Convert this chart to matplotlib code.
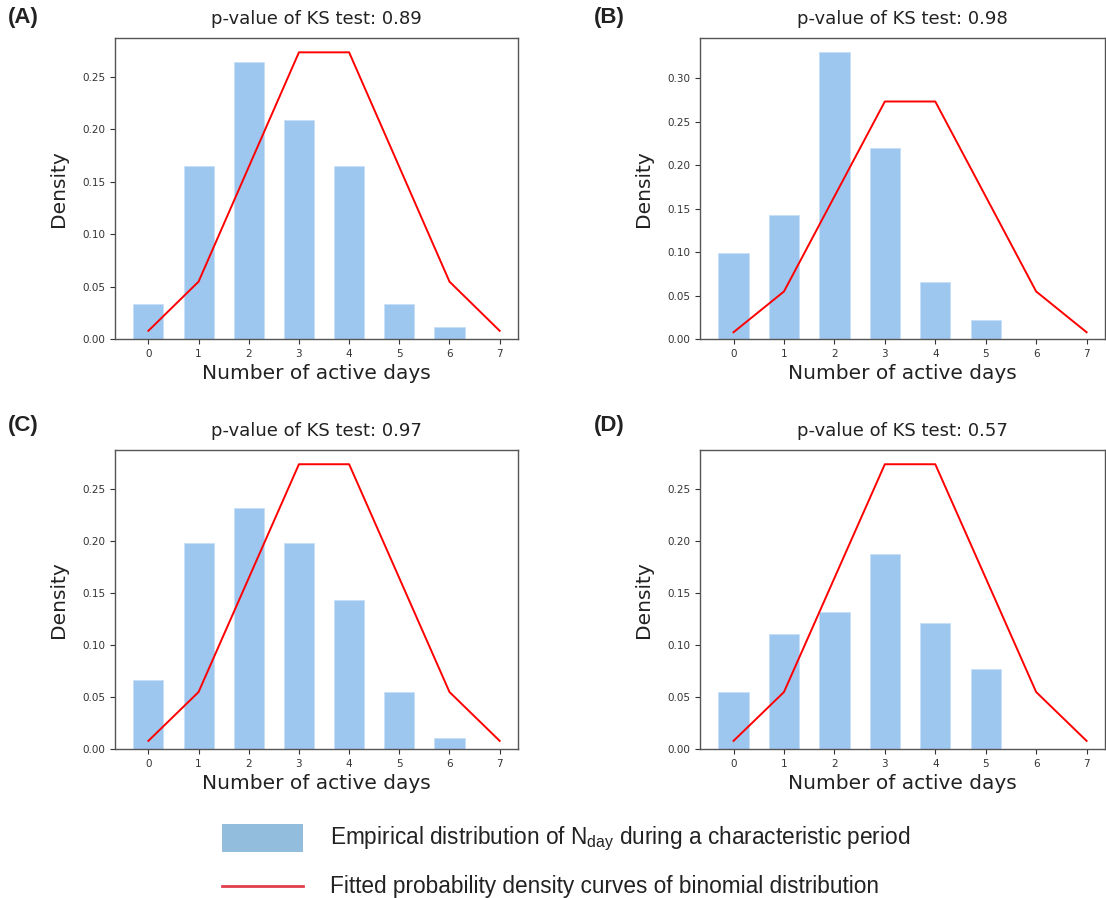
import matplotlib.pyplot as plt
import matplotlib.patches as mpatches
from matplotlib.lines import Line2D

# 活跃天数 0..7
days = [0, 1, 2, 3, 4, 5, 6, 7]
bar_days = [0, 1, 2, 3, 4, 5, 6]

# empirical distributions
emp_A = [0.033, 0.165, 0.264, 0.209, 0.165, 0.033, 0.011]
emp_B = [0.099, 0.143, 0.330, 0.220, 0.066, 0.022, 0.0]
emp_C = [0.066, 0.198, 0.231, 0.198, 0.143, 0.055, 0.011]
emp_D = [0.055, 0.110, 0.132, 0.187, 0.121, 0.077, 0.0]

# fitted binomial curve
fitted = [0.0078, 0.0547, 0.1641, 0.2734, 0.2734, 0.1641, 0.0547, 0.0078]

pvalues = ['0.89', '0.98', '0.97', '0.57']
panel_labels = ['(A)', '(B)', '(C)', '(D)']

W, H = 1106, 898
fig = plt.figure(figsize=(W / 100, H / 100), dpi=100)

# axes boxes in pixels: left, top, right, bottom
boxes = [(115, 38, 518, 339), (700, 38, 1105, 339),
         (115, 450, 518, 749), (700, 450, 1105, 749)]
label_pos = [(8, 18), (594, 18), (8, 425), (594, 425)]

bar_color = '#9ec7f0'

for emp, pv, lab, box, lp in zip([emp_A, emp_B, emp_C, emp_D], pvalues, panel_labels, boxes, label_pos):
    l, t, r, b = box
    ax = fig.add_axes([l / W, 1 - b / H, (r - l) / W, (b - t) / H])
    ax.bar(bar_days, emp, width=0.6, color=bar_color, edgecolor='#c8e0f8', linewidth=0.6)
    ax.plot(days, fitted, color='red', linewidth=1.4)
    ax.set_title('p-value of KS test: ' + pv, fontsize=13, pad=10, color='#222222')
    ax.set_xlabel('Number of active days', fontsize=14.5, labelpad=4, color='#222222')
    ax.set_ylabel('Density', fontsize=14.5, labelpad=10, color='#222222')
    ax.set_xticks(days)
    ax.tick_params(labelsize=7.5, colors='#333333', length=3.5, width=0.8)
    for s in ax.spines.values():
        s.set_color('#555555')
        s.set_linewidth(1.0)
    fig.text(lp[0] / W, 1 - lp[1] / H, lab, fontsize=16, fontweight='bold',
             family='Liberation Sans', va='center', ha='left', color='#222222')

# legend at the bottom
lax = fig.add_axes([0, 0, 1, 1], facecolor='none')
lax.set_xlim(0, W)
lax.set_ylim(H, 0)
lax.axis('off')
lax.add_patch(mpatches.Rectangle((222, 824), 81, 28, color='#92bddc', linewidth=0))
lax.add_line(Line2D([222, 303], [886, 886], color='#e0404c', linewidth=2))
lax.text(330, 839, r'Empirical distribution of N$_{\mathregular{day}}$ during a characteristic period',
         fontsize=16.3, family='Liberation Sans', va='center', ha='left', color='#222222')
lax.text(330, 886, 'Fitted probability density curves of binomial distribution',
         fontsize=16.3, family='Liberation Sans', va='center', ha='left', color='#222222')

fig.savefig('out.png', dpi=100)
